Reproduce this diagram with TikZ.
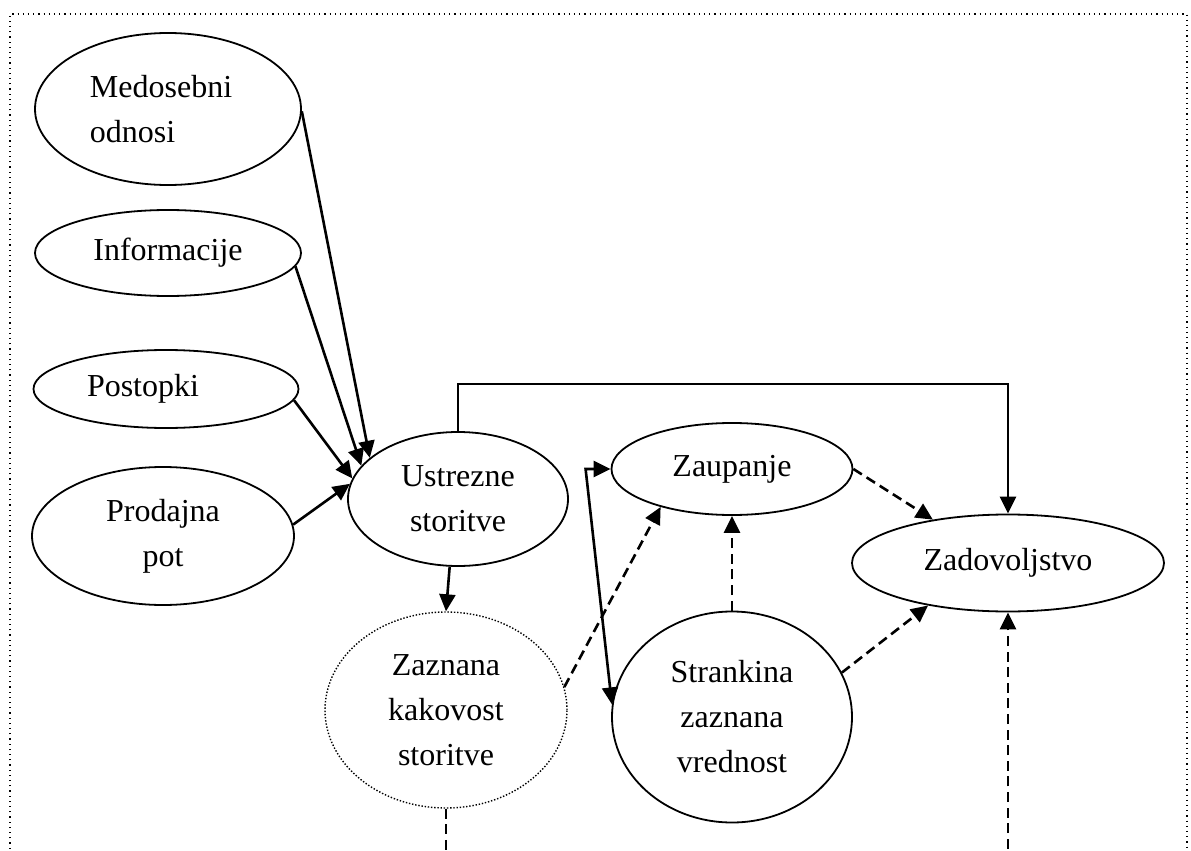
\documentclass[tikz,border=0pt]{standalone}
\usepackage{fontspec}
\setmainfont{Liberation Serif}
\usetikzlibrary{shapes.geometric,arrows.meta}
\tikzset{
  >={Triangle[length=8.5pt,width=8pt]},
  oval/.style={draw,ellipse,line width=0.9pt,inner sep=0pt,align=center,font=\fontsize{16}{22.5}\selectfont},
  link/.style={->,line width=1.3pt},
  dlink/.style={link,dash pattern=on 5pt off 2.8pt}
}
\begin{document}
\begin{tikzpicture}[x=0.5pt,y=-0.5pt]
\useasboundingbox (0,0) rectangle (1191,851);
\draw[line width=0.6pt,dotted] (10,880) -- (10,14) -- (1187,14) -- (1187,880);
\node[oval,minimum width=133pt,minimum height=76pt,text width=78pt,align=left] (med) at (168,109) {Medosebni\\odnosi};
\node[oval,minimum width=133pt,minimum height=43pt] (inf) at (168,253) {Informacije};
\node[oval,minimum width=132.5pt,minimum height=39pt,text width=79pt,align=left] (pos) at (166,389) {Postopki};
\node[oval,minimum width=131pt,minimum height=69pt] (pro) at (163,536) {Prodajna\\pot};
\node[oval,minimum width=110pt,minimum height=67pt] (ust) at (458,499) {Ustrezne\\storitve};
\node[oval,minimum width=121pt,minimum height=98pt,line width=0.7pt,dash pattern=on 0.7pt off 0.9pt] (zaz) at (446,710) {Zaznana\\kakovost\\storitve};
\node[oval,minimum width=120.5pt,minimum height=46pt] (zau) at (732,469) {Zaupanje};
\node[oval,minimum width=120pt,minimum height=105.5pt] (str) at (732,717) {Strankina\\zaznana\\vrednost};
\node[oval,minimum width=156pt,minimum height=48.5pt] (zad) at (1008,563) {Zadovoljstvo};
\coordinate (zazend) at (446,880);
\coordinate (zadend) at (1008,880);
\draw[link] (med.-1) -- (ust.155);
\draw[link] (inf.-6) -- (ust.161);
\draw[link] (pos.-5) -- (ust.169);
\draw[link] (pro.5) -- (ust.172);
\draw[link] (ust.north) -- ++(0,-47) -| (zad.north);
\draw[link] (ust.-97) -- (zaz.north);
\draw[dlink] (zaz.11) -- (zau.208);
\draw[dlink,-] (zaz.south) -- (zazend);
\draw[link,<->] (zau.west) -- ++(-25,0) -- (str.174);
\draw[dlink] (str.north) -- (zau.south);
\draw[dlink] (zau.east) -- (zad.150);
\draw[dlink] (str.22) -- (zad.208);
\draw[dlink] (zadend) -- (zad.south);
\end{tikzpicture}
\end{document}
